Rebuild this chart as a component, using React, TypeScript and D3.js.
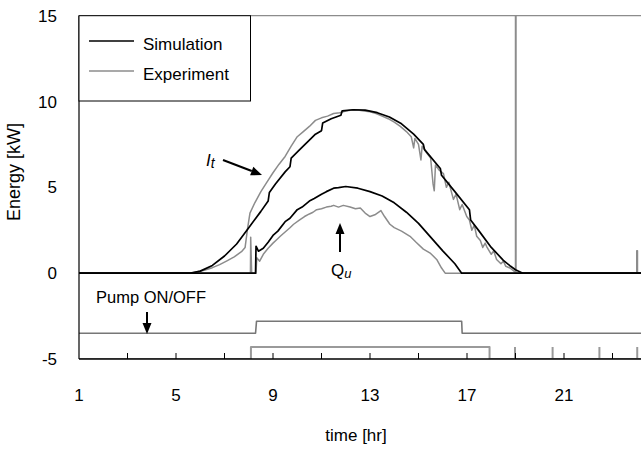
import React from 'react';
import * as d3 from 'd3';

// hours on x, kW on y
const xTickLabels = [1, 5, 9, 13, 17, 21];
const xTickMarks = [3, 5, 7, 9, 11, 13, 15, 17, 19, 21, 23, 25];
const yTickLabels = [15, 10, 5, 0, -5];

const simIt: [number, number][] = [
  [1, 0], [5.6, 0], [6.0, 0.12], [6.5, 0.45], [7.0, 1.0], [7.5, 1.7], [8.0, 2.65],
  [8.5, 3.6], [8.8, 4.2], [8.85, 4.7], [9.1, 5.2], [9.5, 5.9], [9.7, 6.2], [9.75, 6.7],
  [10.1, 7.2], [10.5, 7.75], [10.75, 8.1], [11.0, 8.3], [11.05, 8.75], [11.4, 9.0],
  [11.8, 9.2], [11.85, 9.45], [12.3, 9.52], [12.8, 9.5], [13.3, 9.35], [13.8, 9.1],
  [14.3, 8.7], [14.8, 8.1], [15.2, 7.5], [15.25, 7.2], [15.9, 6.1], [15.95, 5.7],
  [16.5, 4.75], [17.1, 3.7], [17.15, 3.1], [17.5, 2.45], [18.0, 1.5], [18.5, 0.75],
  [18.8, 0.4], [19.0, 0.2], [19.3, 0], [25, 0],
];

const expIt: [number, number][] = [
  [1, 0], [5.6, 0], [5.9, 0.08], [6.2, 0.18], [6.5, 0.32], [6.8, 0.5], [7.1, 0.72],
  [7.4, 0.95], [7.7, 1.25], [7.85, 1.5], [7.95, 2.6], [8.05, 3.5], [8.25, 4.1],
  [8.5, 4.75], [8.75, 5.3], [9.0, 5.85], [9.25, 6.35], [9.5, 6.8], [9.75, 7.4],
  [10.0, 7.95], [10.25, 8.25], [10.5, 8.55], [10.75, 8.9], [11.0, 9.05], [11.25, 9.15],
  [11.5, 9.3], [11.75, 9.35], [12.0, 9.45], [12.25, 9.5], [12.5, 9.5], [12.75, 9.45],
  [13.0, 9.4], [13.25, 9.3], [13.5, 9.15], [13.75, 9.0], [14.0, 8.8], [14.25, 8.55],
  [14.5, 8.25], [14.7, 7.95], [14.8, 7.3], [14.85, 7.85], [15.0, 7.5], [15.1, 6.6],
  [15.15, 7.4], [15.34, 7.0], [15.5, 6.7], [15.6, 5.2], [15.65, 4.8], [15.7, 6.3],
  [15.85, 6.0], [16.03, 5.8], [16.15, 5.0], [16.25, 5.3], [16.44, 4.3], [16.55, 4.6],
  [16.7, 3.7], [16.8, 4.0], [16.99, 3.3], [17.1, 3.1], [17.2, 2.5], [17.3, 2.8],
  [17.4, 2.15], [17.55, 1.9], [17.65, 1.5], [17.75, 1.75], [17.81, 1.55], [18.0, 1.1],
  [18.1, 1.3], [18.22, 0.8], [18.4, 0.55], [18.5, 0.7], [18.6, 0.4], [18.77, 0.3],
  [18.95, 0.1], [19.0, 0], [19.0, 15], [19.02, 15], [19.02, 0], [24.0, 0], [24.0, 1.3],
  [24.03, 1.3], [24.03, 0], [25, 0],
];

const simQu: [number, number][] = [
  [1, 0], [8.28, 0], [8.3, 1.57], [8.4, 1.28], [8.6, 1.45], [8.8, 1.8], [9.0, 2.2],
  [9.2, 2.45], [9.5, 3.0], [9.7, 3.2], [10.0, 3.7], [10.2, 3.85], [10.5, 4.2],
  [10.7, 4.35], [11.0, 4.6], [11.2, 4.75], [11.5, 4.95], [11.7, 4.98], [12.0, 5.05],
  [12.5, 4.95], [13.0, 4.75], [13.5, 4.5], [14.0, 4.1], [14.5, 3.55], [15.0, 2.9],
  [15.5, 2.1], [16.0, 1.3], [16.5, 0.55], [16.78, 0], [25, 0],
];

const expQu: [number, number][] = [
  [1, 0], [8.07, 0], [8.08, 2.1], [8.12, 0], [8.3, 0], [8.33, 0.9], [8.45, 0.7],
  [8.6, 1.1], [8.8, 1.45], [9.0, 1.75], [9.15, 1.95], [9.3, 2.15], [9.5, 2.4],
  [9.7, 2.65], [9.85, 2.85], [10.1, 3.1], [10.3, 3.3], [10.5, 3.45], [10.65, 3.55],
  [10.8, 3.7], [11.0, 3.75], [11.2, 3.85], [11.4, 3.9], [11.5, 3.95], [11.7, 3.85],
  [11.9, 3.95], [12.18, 3.86], [12.4, 3.75], [12.6, 3.8], [12.8, 3.5], [13.0, 3.3],
  [13.2, 3.4], [13.45, 3.65], [13.6, 3.3], [13.82, 2.85], [14.0, 2.65], [14.3, 2.45],
  [14.65, 2.15], [14.9, 1.8], [15.2, 1.4], [15.5, 1.15], [15.75, 0.8], [15.95, 0.3],
  [16.1, 0], [25, 0],
];

const simPump: [number, number][] = [
  [1, -3.5], [8.28, -3.5], [8.32, -2.8], [16.78, -2.8], [16.8, -3.5], [25, -3.5],
];

const expPump: [number, number][] = [
  [1, -5], [8.09, -5], [8.09, -4.3], [17.93, -4.3], [17.93, -5], [25, -5],
];
const expPumpSpikes = [18.98, 20.53, 22.46, 24.02];

const W = 641;
const H = 449;
const m = { left: 79, top: 15.7, right: 661, bottom: 359 };
const GRAY = '#8c8c8c';
const FONT = '"Liberation Sans", Arial, sans-serif';

export default function App() {
  const x = d3.scaleLinear().domain([1, 25]).range([m.left, m.right]);
  const y = d3.scaleLinear().domain([-5, 15]).range([m.bottom, m.top]);
  const line = d3.line<[number, number]>().x(d => x(d[0])).y(d => y(d[1]));

  const arrow = (x1: number, y1: number, x2: number, y2: number) => {
    const a = Math.atan2(y2 - y1, x2 - x1);
    const L = 11, w = 4.5;
    const bx = x2 - L * Math.cos(a), by = y2 - L * Math.sin(a);
    const px = -Math.sin(a) * w, py = Math.cos(a) * w;
    return (
      <g>
        <line x1={x1} y1={y1} x2={bx} y2={by} stroke="#000" strokeWidth={2} />
        <path d={`M${x2},${y2}L${bx + px},${by + py}L${bx - px},${by - py}Z`} fill="#000" />
      </g>
    );
  };

  return (
    <svg width={W} height={H} style={{ position: 'absolute', left: 0, top: 0, fontFamily: FONT }}>
      <defs>
        <clipPath id="plot">
          <rect x={m.left} y={m.top} width={m.right - m.left} height={m.bottom - m.top} />
        </clipPath>
      </defs>
      <rect width={W} height={H} fill="#fff" />
      {/* frame */}
      <line x1={m.left} x2={W} y1={m.top} y2={m.top} stroke={GRAY} strokeWidth={1.2} />
      <g clipPath="url(#plot)" fill="none" strokeLinejoin="round">
        <path d={line(expPump)!} stroke="#9a9a9a" strokeWidth={2} />
        {expPumpSpikes.map(t => (
          <line key={t} x1={x(t)} x2={x(t)} y1={y(-5)} y2={y(-4.3)} stroke="#9a9a9a" strokeWidth={2} />
        ))}
        <path d={line(simPump)!} stroke="#777" strokeWidth={1.6} />
        <path d={line(expIt)!} stroke={GRAY} strokeWidth={1.5} />
        <path d={line(expQu)!} stroke={GRAY} strokeWidth={1.5} />
        <path d={line(simIt)!} stroke="#000" strokeWidth={1.7} />
        <path d={line(simQu)!} stroke="#000" strokeWidth={1.7} />
      </g>
      {/* axes */}
      <line x1={m.left} x2={m.left} y1={m.top} y2={m.bottom} stroke="#000" strokeWidth={1.2} />
      <line x1={m.left} x2={W} y1={m.bottom} y2={m.bottom} stroke="#000" strokeWidth={1.5} />
      {xTickMarks.map(t => (
        <line key={t} x1={x(t)} x2={x(t)} y1={m.bottom} y2={m.bottom - 6} stroke="#000" strokeWidth={1} />
      ))}
      {xTickLabels.map(t => (
        <text key={t} x={x(t)} y={401} fontSize={17} textAnchor="middle">{t}</text>
      ))}
      {yTickLabels.map(t => (
        <text key={t} x={57} y={y(t)} dy="0.36em" fontSize={17} textAnchor="end">{t}</text>
      ))}
      <text x={356} y={441} fontSize={17} textAnchor="middle">time [hr]</text>
      <text transform="translate(20,172) rotate(-90)" fontSize={18} textAnchor="middle">Energy [kW]</text>

      {/* legend */}
      <rect x={m.left} y={m.top} width={171.5} height={85.3} fill="#fff" stroke="#000" strokeWidth={1} />
      <line x1={89} x2={134} y1={41} y2={41} stroke="#000" strokeWidth={1.7} />
      <text x={143} y={50} fontSize={17}>Simulation</text>
      <line x1={89} x2={134} y1={71} y2={71} stroke={GRAY} strokeWidth={1.5} />
      <text x={143} y={80} fontSize={17}>Experiment</text>

      {/* annotations */}
      <text x={206} y={166} fontSize={17} fontStyle="italic">I<tspan fontSize={14} dy={2}>t</tspan></text>
      {arrow(223, 160, 262, 175)}
      <text x={331} y={276} fontSize={17}>Q<tspan fontSize={13} dy={2} fontStyle="italic">u</tspan></text>
      {arrow(340, 252, 340, 223)}
      <text x={96} y={303} fontSize={16.5}>Pump ON/OFF</text>
      {arrow(147, 312, 147, 334)}
    </svg>
  );
}
